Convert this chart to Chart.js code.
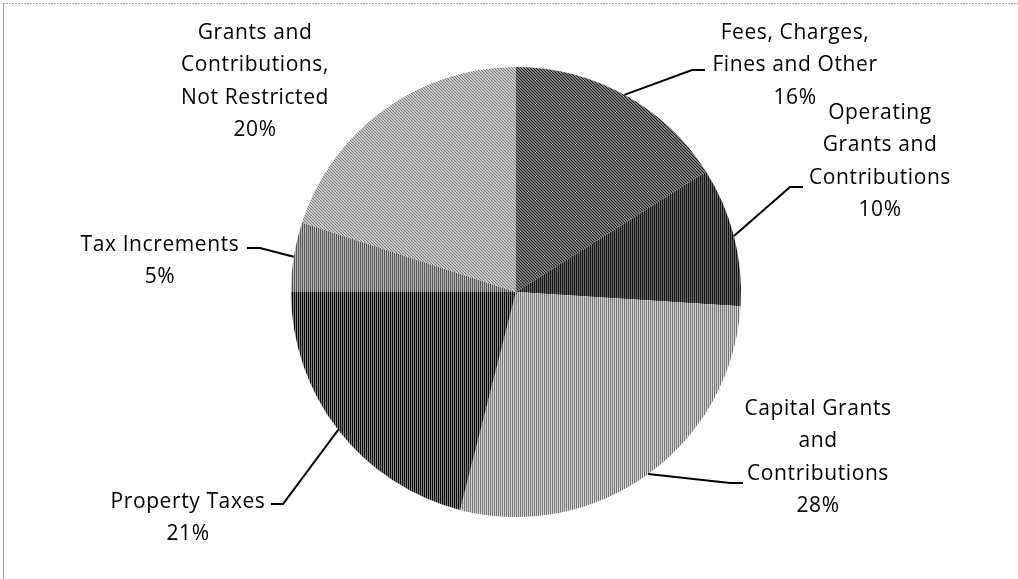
<!DOCTYPE html>
<html>
<head>
<meta charset="utf-8">
<script src="https://cdn.jsdelivr.net/npm/chart.js@4.4.1/dist/chart.umd.min.js"></script>
<style>
  html, body { margin: 0; padding: 0; background: #fff; }
  #wrap { position: relative; width: 1018px; height: 579px; }
</style>
</head>
<body>
<div id="wrap"><canvas id="revenuePie" width="1018" height="579"></canvas></div>
<script>
// ── Revenue sources (percent of total) ──────────────────────────
const categories = [
    'Fees, Charges, Fines and Other',
    'Operating Grants and Contributions',
    'Capital Grants and Contributions',
    'Property Taxes',
    'Tax Increments',
    'Grants and Contributions, Not Restricted'
];
const shares = [16, 10, 28, 21, 5, 20];

// category names broken into label lines
const labelLines = [
    ['Fees, Charges,', 'Fines and Other'],
    ['Operating', 'Grants and', 'Contributions'],
    ['Capital Grants', 'and', 'Contributions'],
    ['Property Taxes'],
    ['Tax Increments'],
    ['Grants and', 'Contributions,', 'Not Restricted']
];

// ── Label placement: text center x, first line y, leader elbow/end ─
const labelLayout = [
    { x: 795, y: 33,  elbow: [692, 70],  end: [705, 70] },
    { x: 880, y: 113, elbow: [790, 187], end: [803, 187] },
    { x: 818, y: 409, elbow: [730, 483], end: [743, 483] },
    { x: 188, y: 502, elbow: [283, 504], end: [271, 504] },
    { x: 160, y: 245, elbow: [260, 248], end: [247, 248] },
    { x: 255, y: 33,  elbow: null,       end: null }
];
const lineHeight = 32.5;

// ── Fill patterns (fine grey stripes) ───────────────────────────
function stripePattern(bg, fg, size, dir) {
    const c = document.createElement('canvas');
    c.width = size; c.height = size;
    const g = c.getContext('2d');
    g.fillStyle = bg;
    g.fillRect(0, 0, size, size);
    g.fillStyle = fg;
    if (dir === 'v') {
        g.fillRect(0, 0, 1, size);
    } else {
        for (let i = 0; i < size; i++) g.fillRect(i, i, 1, 1);
    }
    return g.createPattern(c, 'repeat');
}

const sliceFills = [
    stripePattern('#7e7e7e', '#1c1c1c', 3, 'd'),
    stripePattern('#686868', '#161616', 2, 'v'),
    stripePattern('#d6d6d6', '#747474', 2, 'v'),
    stripePattern('#828282', '#0c0c0c', 2, 'v'),
    stripePattern('#b6b6b6', '#555555', 2, 'v'),
    stripePattern('#cacaca', '#767676', 3, 'd')
];

// ── Frame + labels with leader lines ────────────────────────────
const pieLabels = {
    id: 'pieLabels',
    beforeDraw(chart) {
        const ctx = chart.ctx;
        ctx.save();
        ctx.strokeStyle = '#a6a6a6';
        ctx.lineWidth = 1;
        ctx.setLineDash([2, 1]);
        ctx.beginPath();
        ctx.moveTo(3, 3.5); ctx.lineTo(1018, 3.5);
        ctx.stroke();
        ctx.setLineDash([]);
        ctx.beginPath();
        ctx.moveTo(3.5, 3); ctx.lineTo(3.5, 579);
        ctx.stroke();
        ctx.restore();
    },
    afterDraw(chart) {
        const ctx = chart.ctx;
        const arcs = chart.getDatasetMeta(0).data;
        const total = shares.reduce((a, b) => a + b, 0);
        ctx.save();
        ctx.font = '21px "Open Sans", sans-serif';
        ctx.fillStyle = '#000';
        ctx.textAlign = 'center';
        ctx.textBaseline = 'middle';
        if ('letterSpacing' in ctx) ctx.letterSpacing = '0.6px';

        arcs.forEach(function (arc, i) {
            const p = arc.getProps(['x', 'y', 'startAngle', 'endAngle', 'outerRadius'], true);
            const lay = labelLayout[i];
            const lines = labelLines[i].concat([Math.round(shares[i] / total * 100) + '%']);

            lines.forEach(function (t, k) {
                ctx.fillText(t, lay.x, lay.y + k * lineHeight);
            });

            if (lay.elbow) {
                const mid = (p.startAngle + p.endAngle) / 2;
                ctx.strokeStyle = '#000';
                ctx.lineWidth = 2;
                ctx.beginPath();
                ctx.moveTo(p.x + p.outerRadius * Math.cos(mid), p.y + p.outerRadius * Math.sin(mid));
                ctx.lineTo(lay.elbow[0], lay.elbow[1]);
                ctx.lineTo(lay.end[0], lay.end[1]);
                ctx.stroke();
            }
        });
        ctx.restore();
    }
};

new Chart(document.getElementById('revenuePie'), {
    type: 'pie',
    data: {
        labels: categories,
        datasets: [{
            data: shares,
            backgroundColor: sliceFills,
            borderWidth: 0
        }]
    },
    options: {
        responsive: false,
        animation: false,
        events: [],
        layout: { padding: { left: 291, right: 277, top: 67, bottom: 62 } },
        plugins: {
            legend: { display: false },
            tooltip: { enabled: false }
        }
    },
    plugins: [pieLabels]
});
</script>
</body>
</html>
